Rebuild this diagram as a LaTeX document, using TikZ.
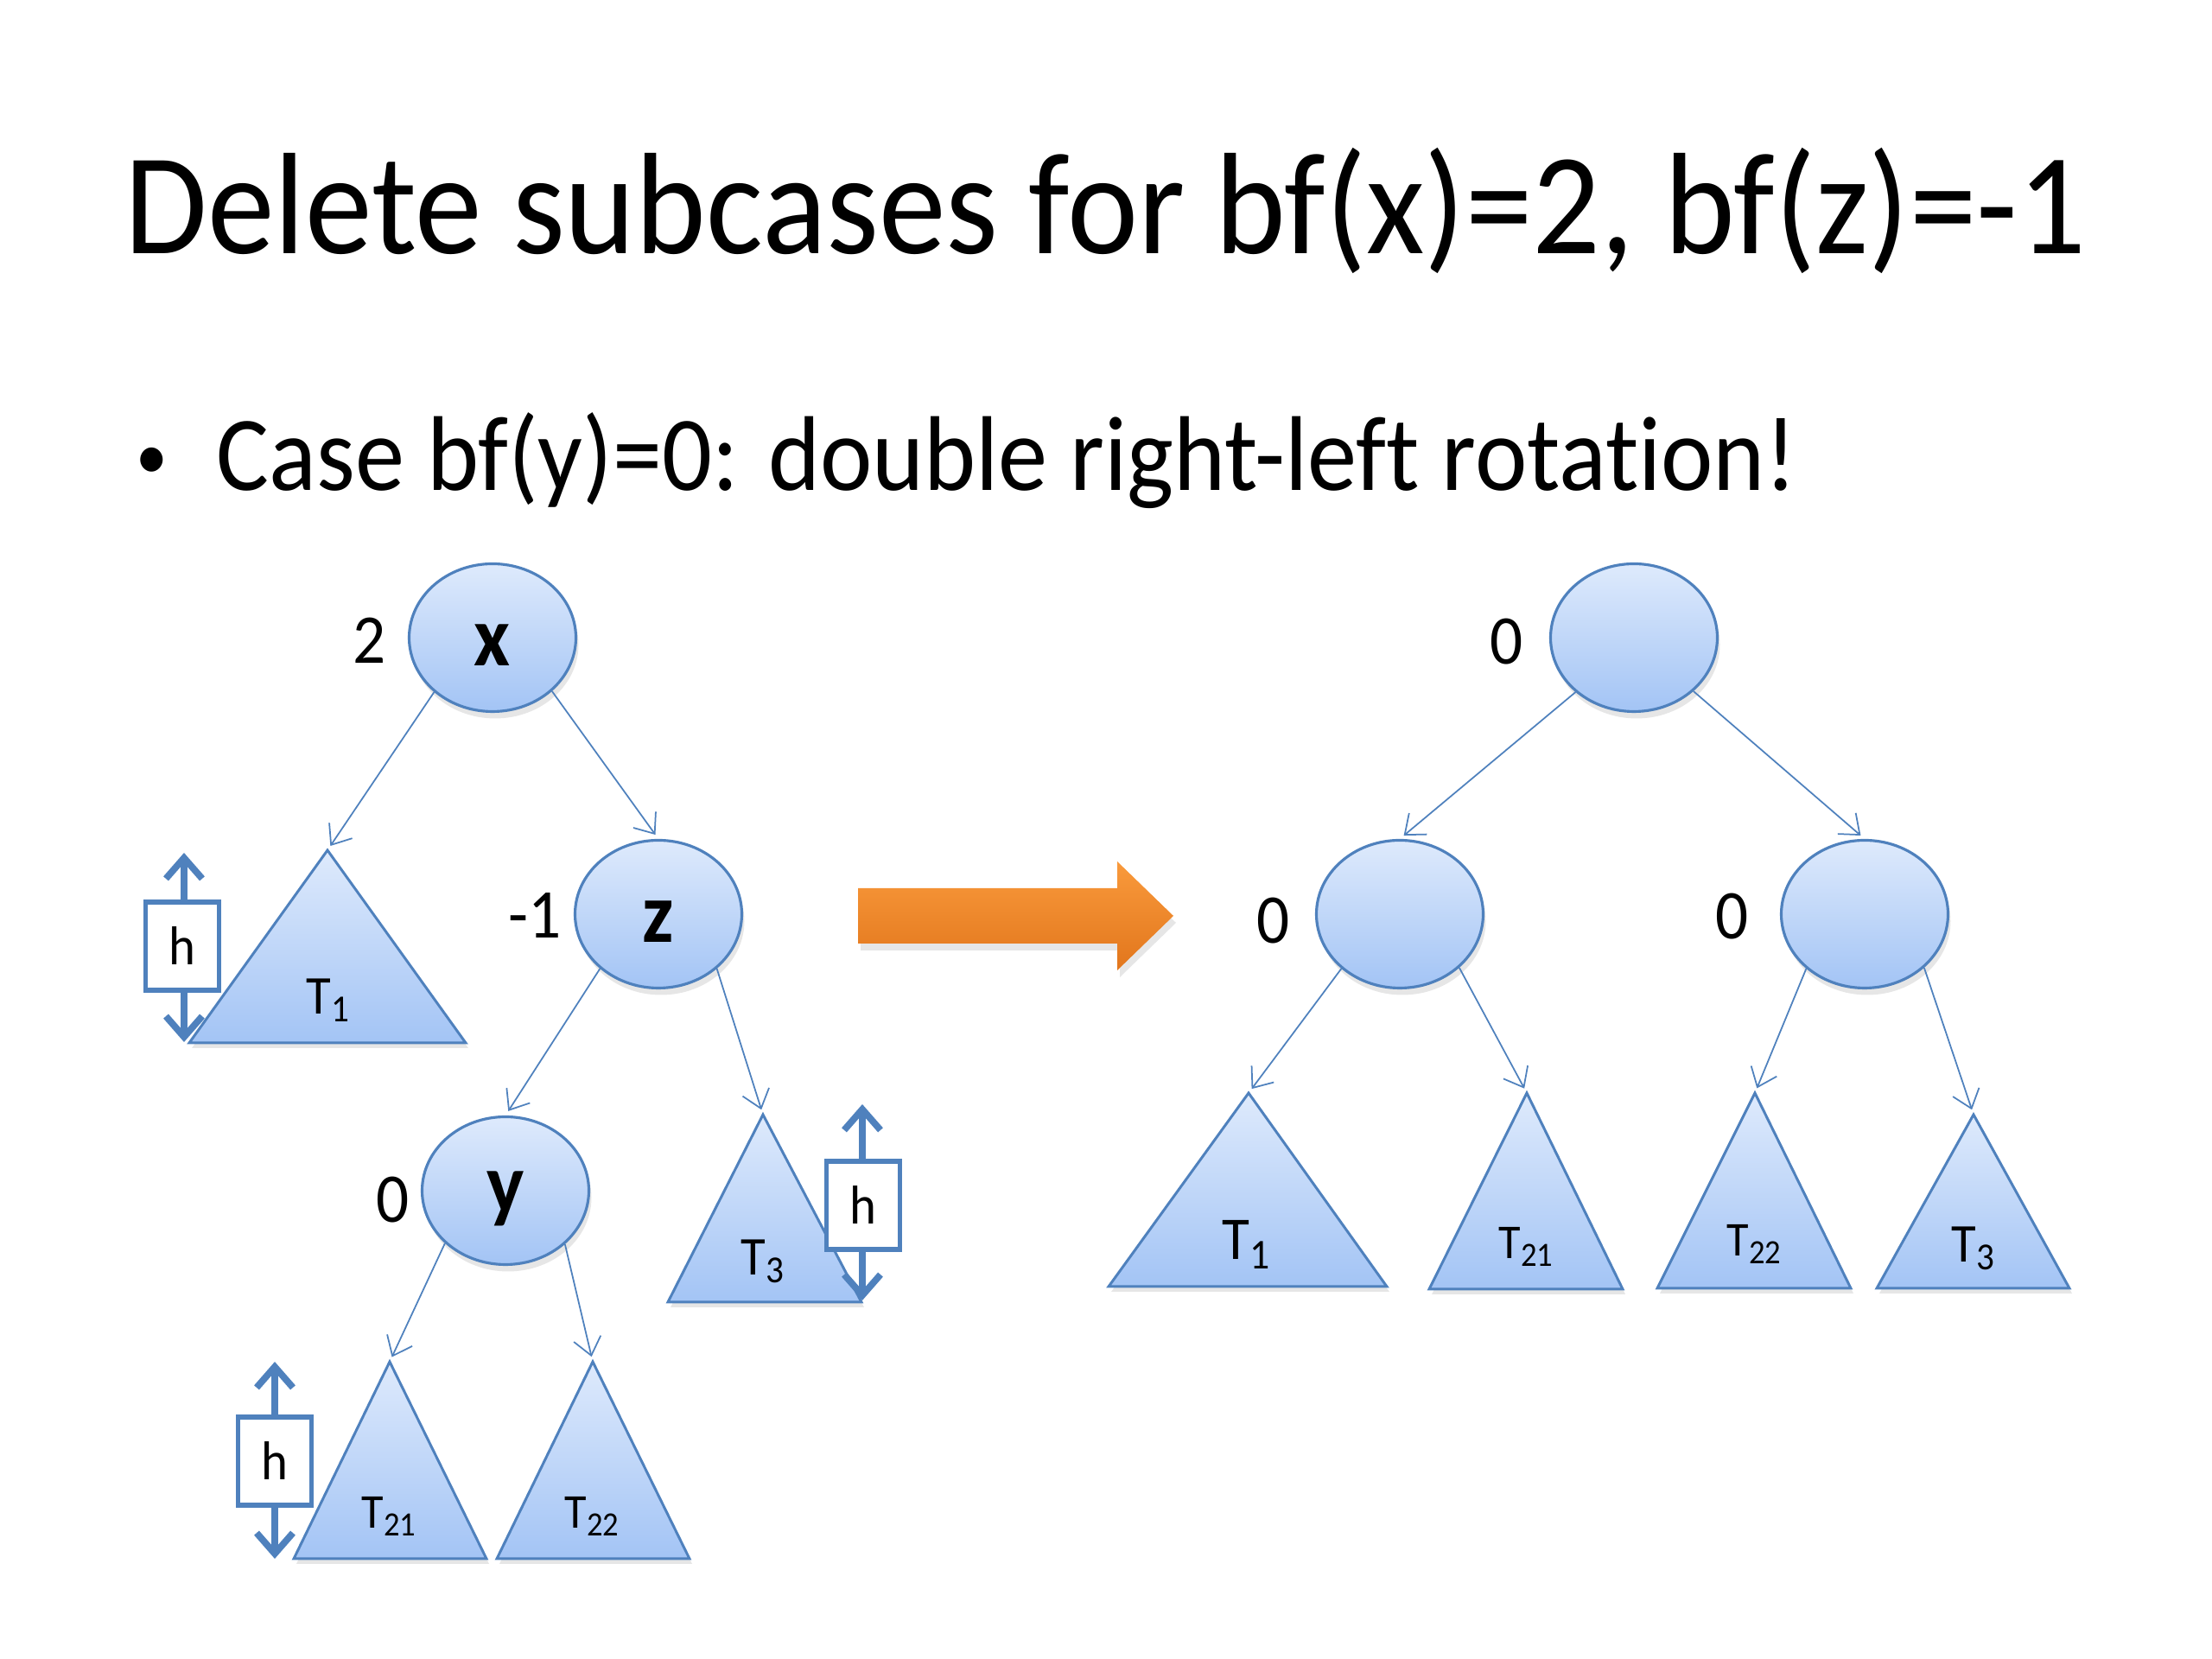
\documentclass[tikz,border=0pt]{standalone}
\usepackage{fontspec}
\setmainfont[FakeStretch=0.93, Ligatures={NoCommon}]{Carlito}
\usetikzlibrary{arrows.meta,shapes.geometric,shadows}
\definecolor{avlblue}{RGB}{79,129,189}
\definecolor{avltop}{RGB}{222,234,252}
\definecolor{avlbot}{RGB}{163,196,245}
\definecolor{rottop}{RGB}{249,154,60}
\definecolor{rotbot}{RGB}{226,118,28}

\begin{document}
\begin{tikzpicture}[
  txt/.style={inner sep=0pt, anchor=base west},
  avl/.style={ellipse, draw=avlblue, line width=0.9pt, top color=avltop, bottom color=avlbot,
    minimum width=1.93cm, minimum height=1.71cm, inner sep=0pt,
    text height=0.66cm, text depth=0pt,
    font=\fontsize{28}{30}\selectfont\bfseries,
    drop shadow={shadow xshift=0.3mm, shadow yshift=-0.8mm, opacity=0.2}},
  bal/.style={inner sep=0pt, font=\fontsize{23}{25}\selectfont},
  subtree/.style={draw=avlblue, line width=0.85pt, line join=miter, top color=avltop, bottom color=avlbot,
    drop shadow={shadow xshift=0.3mm, shadow yshift=-0.6mm, opacity=0.2}},
  tlab/.style={inner sep=0pt, font=\fontsize{18}{20}\selectfont},
  link/.style={draw=avlblue, line width=0.5pt, -{Straight Barb[length=2mm,width=3.2mm]}, shorten >=0.6mm},
  harrow/.style={draw=avlblue, line width=2.2pt,
    {Straight Barb[length=2.4mm,width=4.2mm]}-{Straight Barb[length=2.4mm,width=4.2mm]}},
  hbox/.style={draw=avlblue, line width=1.6pt, fill=white, minimum width=0.85cm, minimum height=1.02cm,
    inner sep=0pt, font=\fontsize{18}{20}\selectfont}
]
\useasboundingbox (0,0) rectangle (25.6,19.2);

% title and bullet
\node[txt, font=\fontsize{47.6}{50}\selectfont] (title) at (1.44,16.26) {Delete subcases for bf(x)=2, bf(z)=-1};
\node[txt, font=\fontsize{22.5}{24}\selectfont] (bullet) at (1.57,13.655) {•};
\node[txt, font=\fontsize{35}{38}\selectfont] (case) at (2.50,13.52) {Case bf(y)=0: double right-left rotation!};

% left tree
\node[avl] (x) at (5.70,11.82) {x};
\node[avl] (z) at (7.62,8.62) {z};
\node[avl, text height=0.72cm, text depth=0.2cm] (y) at (5.85,5.42) {y};
\node[bal] (bx) at (4.28,11.79) {2};
\node[bal] (bz) at (6.19,8.60) {-1};
\node[bal] (by) at (4.55,5.31) {0};

\draw[subtree] (3.79,9.36) coordinate (t1) -- (5.39,7.13) -- (2.19,7.13) -- cycle;
\draw[subtree] (8.83,6.30) coordinate (t3) -- (9.97,4.13) -- (7.73,4.13) -- cycle;
\draw[subtree] (4.51,3.44) coordinate (t21) -- (5.63,1.16) -- (3.40,1.16) -- cycle;
\draw[subtree] (6.86,3.44) coordinate (t22) -- (7.98,1.16) -- (5.75,1.16) -- cycle;
\node[tlab] (l1) at (3.80,7.62) {T\textsubscript{1}};
\node[tlab] (l3) at (8.83,4.60) {T\textsubscript{3}};
\node[tlab, font=\fontsize{16}{18}\selectfont] (l21) at (4.51,1.65) {T\textsubscript{21}};
\node[tlab, font=\fontsize{16}{18}\selectfont] (l22) at (6.86,1.65) {T\textsubscript{22}};

\draw[link] (x.-137) -- (t1);
\draw[link] (x.-42) -- (z.north);
\draw[link] (z.-137) -- (y.north);
\draw[link] (z.-43) -- (t3);
\draw[link] (y.-139) -- (t21);
\draw[link] (y.-42) -- (t22);

% heights
\coordinate (h1top) at (2.13,9.33);
\coordinate (h1bot) at (2.13,7.14);
\draw[harrow] (h1top) -- (h1bot);
\node[hbox] (h1) at (2.11,8.25) {h};
\coordinate (h3top) at (9.98,6.42);
\coordinate (h3bot) at (9.98,4.15);
\draw[harrow] (h3top) -- (h3bot);
\node[hbox] (h3) at (9.99,5.25) {h};
\coordinate (h21top) at (3.18,3.44);
\coordinate (h21bot) at (3.18,1.16);
\draw[harrow] (h21top) -- (h21bot);
\node[hbox] (h21) at (3.18,2.29) {h};

% rotation arrow
\path[top color=rottop, bottom color=rotbot, drop shadow={shadow xshift=0.3mm, shadow yshift=-0.8mm, opacity=0.2}]
  (9.93,8.92) -- (12.93,8.92) -- (12.93,9.23) -- (13.58,8.60) -- (12.93,7.97) -- (12.93,8.28) -- (9.93,8.28) -- cycle;

% right tree
\node[avl] (r) at (18.91,11.82) {};
\node[avl] (rl) at (16.20,8.62) {};
\node[avl] (rr) at (21.58,8.62) {};
\node[bal] (br) at (17.44,11.77) {0};
\node[bal] (brl) at (14.74,8.54) {0};
\node[bal] (brr) at (20.05,8.59) {0};

\draw[subtree] (14.45,6.55) coordinate (rt1) -- (16.05,4.31) -- (12.83,4.31) -- cycle;
\draw[subtree] (17.67,6.55) coordinate (rt21) -- (18.78,4.28) -- (16.54,4.28) -- cycle;
\draw[subtree] (20.31,6.55) coordinate (rt22) -- (21.42,4.29) -- (19.18,4.29) -- cycle;
\draw[subtree] (22.84,6.30) coordinate (rt3) -- (23.95,4.29) -- (21.72,4.29) -- cycle;
\node[tlab, font=\fontsize{20}{22}\selectfont] (rl1) at (14.43,4.80) {T\textsubscript{1}};
\node[tlab, font=\fontsize{16}{18}\selectfont] (rl21) at (17.67,4.77) {T\textsubscript{21}};
\node[tlab, font=\fontsize{16}{18}\selectfont] (rl22) at (20.31,4.80) {T\textsubscript{22}};
\node[tlab] (rl3) at (22.84,4.75) {T\textsubscript{3}};

\draw[link] (r.-137) -- (rl.north);
\draw[link] (r.-42) -- (rr.north);
\draw[link] (rl.-137) -- (rt1);
\draw[link] (rl.-42) -- (rt21);
\draw[link] (rr.-137) -- (rt22);
\draw[link] (rr.-42) -- (rt3);
\end{tikzpicture}
\end{document}
